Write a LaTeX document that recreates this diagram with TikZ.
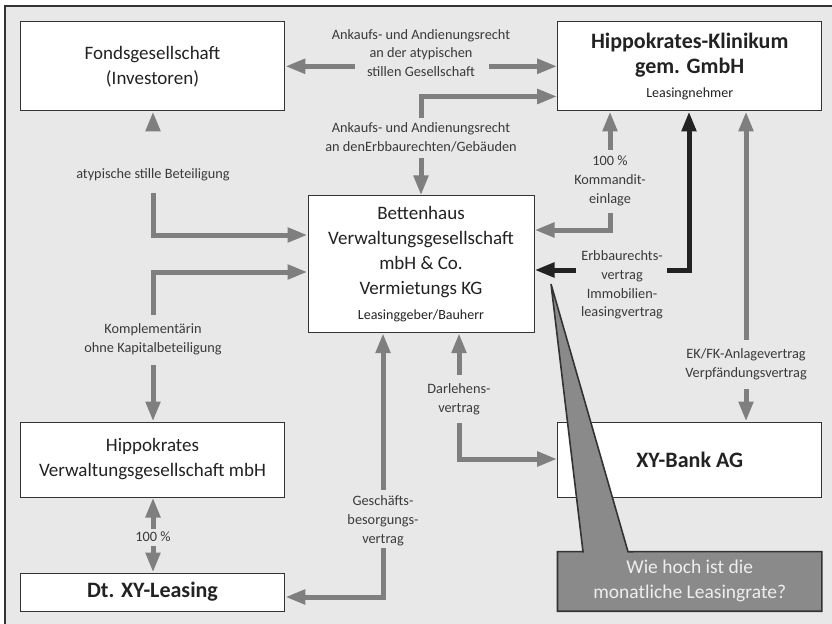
\documentclass[tikz,border=0pt]{standalone}
\usepackage{fontspec}
\setmainfont{Carlito}
\usetikzlibrary{arrows.meta}
\definecolor{bgcol}{HTML}{E8E8E8}
\definecolor{framecol}{HTML}{333333}
\definecolor{arrowgrey}{HTML}{7F7F7F}
\definecolor{arrowblack}{HTML}{222222}
\definecolor{textcol}{HTML}{222222}
\definecolor{labelcol}{HTML}{3A3A3A}
\definecolor{callfill}{HTML}{8A8A8A}
\definecolor{calltext}{HTML}{EEEEEE}
\newcommand{\bigbold}[1]{{\fontsize{22bp}{25bp}\selectfont\bfseries #1}}
\newcommand{\smalltxt}[1]{{\fontsize{14bp}{18bp}\selectfont #1}}
\begin{document}
\begin{tikzpicture}[x=1bp,y=-1bp,
  box/.style={draw=framecol, line width=1bp, fill=white, inner sep=0pt, align=center, text=textcol,
    font=\fontsize{19bp}{25bp}\selectfont},
  lbl/.style={align=center, text=labelcol, inner sep=0pt, font=\fontsize{14.3bp}{18.8bp}\selectfont},
  conn/.style={draw=arrowgrey, line width=5bp, -{Triangle[length=20bp,width=14bp]}},
  connb/.style={draw=arrowblack, line width=5bp, -{Triangle[length=20bp,width=14bp]}},
  callshape/.style={fill=callfill, draw=framecol, line width=1.6bp, line join=miter},
]
\useasboundingbox (0,0) rectangle (832,624);
\clip (0,0) rectangle (832,624);
\draw[draw=framecol, fill=bgcol, line width=1.2bp] (5,6) rectangle (860,660);

% boxes
\node[box, minimum width=264.5bp, minimum height=89.3bp] (fonds) at (152.5,66.3)
  {Fondsgesellschaft\\(Investoren)};
\node[box, minimum width=264bp, minimum height=89.3bp] (klinik) at (689.7,66.3)
  {\bigbold{Hippokrates-Klinikum}\\\bigbold{gem. GmbH}\\[-1bp]\smalltxt{Leasingnehmer}};
\node[box, minimum width=226bp, minimum height=136.7bp] (bett) at (421,264.3)
  {Bettenhaus\\Verwaltungsgesellschaft\\mbH \& Co.\\Vermietungs KG\\\smalltxt{Leasinggeber/Bauherr}};
\node[box, minimum width=264.5bp, minimum height=75bp] (hverw) at (152.5,459.5)
  {Hippokrates\\Verwaltungsgesellschaft mbH};
\node[box, minimum width=264.5bp, minimum height=38bp] (leasing) at (152.5,592)
  {\bigbold{Dt. XY-Leasing}};
\node[box, minimum width=264bp, minimum height=75bp] (bank) at (689.7,459.5)
  {\bigbold{XY-Bank AG}};

% labels
\node[lbl] (lblTop) at (421,53) {Ankaufs- und Andienungsrecht\\an der atypischen\\stillen Gesellschaft};
\node[lbl] (lblErb) at (421,137) {Ankaufs- und Andienungsrecht\\an denErbbaurechten/Gebäuden};
\node[lbl] (lblBet) at (153,175) {atypische stille Beteiligung};
\node[lbl] (lblKom) at (153,339) {Komplementärin\\ohne Kapitalbeteiligung};
\node[lbl] (lblHun) at (153,537) {100 \%};
\node[lbl] (lblGes) at (383,521) {Geschäfts-\\besorgungs-\\vertrag};
\node[lbl] (lblDar) at (459,399) {Darlehens-\\vertrag};
\node[lbl] (lblKdt) at (610,181) {100 \%\\Kommandit-\\einlage};
\node[lbl] (lblErbv) at (622,285) {Erbbaurechts-\\vertrag\\Immobilien-\\leasingvertrag};
\node[lbl] (lblEK) at (746,364) {EK/FK-Anlagevertrag\\Verpfändungsvertrag};

% connector end points
\coordinate (t1) at (355,66.3);
\coordinate (t2) at (489,66.3);
\coordinate (e1) at (421,118);
\coordinate (e2) at (421,158);
\coordinate (b1) at (153,125);
\coordinate (b2) at (153,193);
\coordinate (k1) at (153,315);
\coordinate (k2) at (153,365);
\coordinate (p1) at (153,529);
\coordinate (p2) at (153,546);
\coordinate (g1) at (383,490);
\coordinate (g2) at (383,548);
\coordinate (d1) at (459,375);
\coordinate (d2) at (459,423);
\coordinate (m1) at (610,150);
\coordinate (m2) at (610,213);
\coordinate (s1) at (667,270);
\coordinate (s2) at (576,270);
\coordinate (v1) at (746,340);
\coordinate (v2) at (746,389);

% connectors
\draw[conn] (t1) -- (t1 -| fonds.east);
\draw[conn] (t2) -- (t2 -| klinik.west);
\draw[conn] (e1) |- (klinik.west |- 0,96.5);
\draw[conn] (e2) -- (e2 |- bett.north);
\draw[conn] (b1) -- (b1 |- fonds.south);
\draw[conn] (b2) |- (bett.west |- 0,235);
\draw[conn] (k1) |- (bett.west |- 0,272);
\draw[conn] (k2) -- (k2 |- hverw.north);
\draw[conn] (p1) -- (p1 |- hverw.south);
\draw[conn] (p2) -- (p2 |- leasing.north);
\draw[conn] (g1) -- (g1 |- bett.south);
\draw[conn] (g2) |- (leasing.east |- 0,597);
\draw[conn] (d1) -- (d1 |- bett.south);
\draw[conn] (d2) |- (bank.west |- 0,459);
\draw[conn] (m1) -- (m1 |- klinik.south);
\draw[conn] (m2) |- (bett.east |- 0,230);
\draw[connb] (s1) -| (klinik.south -| 689,0);
\draw[connb] (s2) -- (s2 -| bett.east);
\draw[conn] (v1) -- (v1 |- klinik.south);
\draw[conn] (v2) -- (v2 |- bank.north);

% callout
\node[minimum width=264bp, minimum height=59.3bp, inner sep=0pt] (call) at (689.7,581.4) {};
\coordinate (tip) at (551,284);
\draw[callshape] (call.north west) -- (583,551.7) -- (tip) -- (628,551.7) -- (call.north east)
  -- (call.south east) -- (call.south west) -- cycle;
\node[align=center, text=calltext, inner sep=0pt, font=\fontsize{19.5bp}{25bp}\selectfont] (calltxt)
  at (call.center) {Wie hoch ist die\\monatliche Leasingrate?};
\end{tikzpicture}
\end{document}
